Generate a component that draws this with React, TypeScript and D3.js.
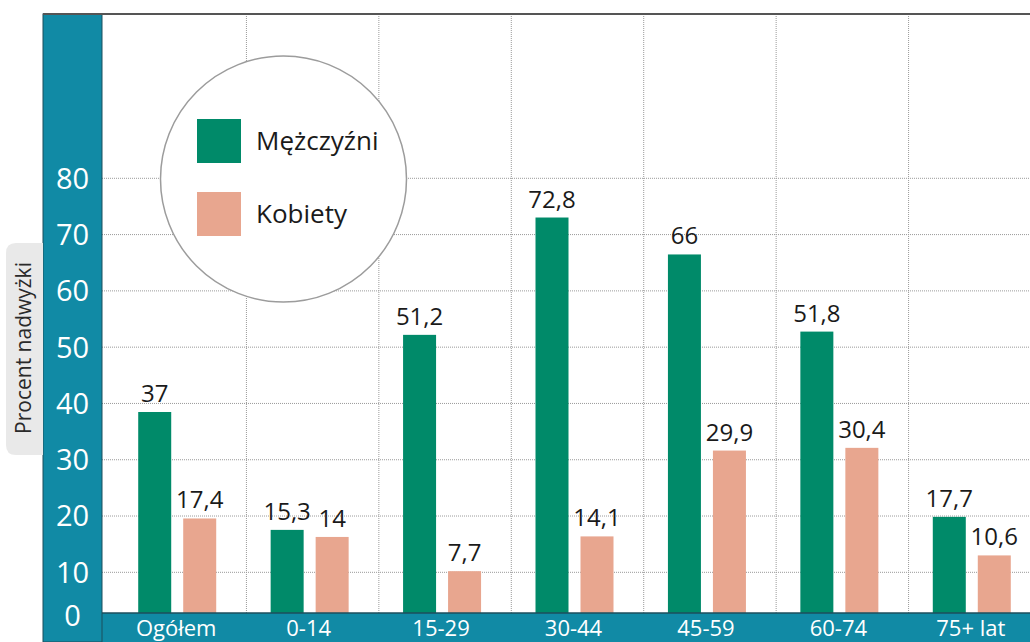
import React from "react";
import * as d3 from "d3";

const categories = ["Ogółem", "0-14", "15-29", "30-44", "45-59", "60-74", "75+ lat"];
const menValues = [37, 15.3, 51.2, 72.8, 66, 51.8, 17.7];
const womenValues = [17.4, 14, 7.7, 14.1, 29.9, 30.4, 10.6];
const tickValues = [0, 10, 20, 30, 40, 50, 60, 70, 80];
const seriesNames = ["Mężczyźni", "Kobiety"];
const axisTitle = "Procent nadwyżki";

const W = 1030;
const H = 642;
const TEAL = "#118aa5";
const GREEN = "#008a69";
const SALMON = "#e8a68f";
const FONT = "'Open Sans', 'Noto Sans', sans-serif";

const fmt = (v: number) => String(v).replace(".", ",");

export default function App() {
  const plotLeft = 102;
  const plotRight = W;
  const plotTop = 14;
  const baseline = 613;

  const x = d3.scaleBand<string>().domain(categories).range([114, 1041]).padding(0);
  // bars: 0 at base of plot, 80 at the 80 gridline
  const yBar = d3.scaleLinear().domain([0, 80]).range([baseline, 178.4]);
  // gridlines / tick labels: evenly spaced grid
  const yGrid = d3.scaleLinear().domain([0, 80]).range([628.6, 178.3]);

  const barW = 33;
  const gap = 12;
  const bandEdges = categories.slice(1).map((c) => x(c) as number);

  return (
    <svg
      width={W}
      height={H}
      style={{ position: "absolute", left: 0, top: 0, background: "#fff" }}
      fontFamily={FONT}
    >
      {/* vertical gridlines */}
      {bandEdges.map((ex, i) => (
        <line key={"vg" + i} x1={ex} x2={ex} y1={plotTop} y2={baseline} stroke="#9a9a9a" strokeWidth={1} strokeDasharray="1,1" />
      ))}
      {/* horizontal gridlines */}
      {tickValues.filter((t) => t > 0).map((t) => (
        <line key={"hg" + t} x1={plotLeft} x2={plotRight} y1={yGrid(t)} y2={yGrid(t)} stroke="#9a9a9a" strokeWidth={1} strokeDasharray="1,1" />
      ))}

      {/* legend circle */}
      <circle cx={283.5} cy={179} r={123} fill="#fff" stroke="#9c9c9c" strokeWidth={1.5} />
      <rect x={197} y={119} width={44} height={44} fill={GREEN} />
      <rect x={197} y={192} width={44} height={44} fill={SALMON} />
      <text x={256} y={150} fontSize={26} fill="#1a1a1a">{seriesNames[0]}</text>
      <text x={256} y={223} fontSize={26} fill="#1a1a1a">{seriesNames[1]}</text>

      {/* bars */}
      {categories.map((c, i) => {
        const cx = (x(c) as number) + x.bandwidth() / 2 - 3;
        const mx = cx - gap / 2 - barW;
        const wx = cx + gap / 2;
        const my = yBar(menValues[i]);
        const wy = yBar(womenValues[i]);
        return (
          <g key={"b" + c}>
            <rect x={mx} y={my} width={barW} height={baseline - my} fill={GREEN} />
            <rect x={wx} y={wy} width={barW} height={baseline - wy} fill={SALMON} />
            <text x={mx + barW / 2} y={my - 10} fontSize={24} textAnchor="middle" fill="#1a1a1a">{fmt(menValues[i])}</text>
            <text x={wx + barW / 2} y={wy - 10} fontSize={24} textAnchor="middle" fill="#1a1a1a">{fmt(womenValues[i])}</text>
          </g>
        );
      })}

      {/* bottom band */}
      <rect x={plotLeft} y={baseline} width={plotRight - plotLeft} height={H - baseline} fill={TEAL} />
      <line x1={plotLeft} x2={plotRight} y1={baseline} y2={baseline} stroke="#1d4e5c" strokeWidth={1.5} />
      {categories.map((c) => (
        <text key={"cl" + c} x={(x(c) as number) + x.bandwidth() / 2 - 4} y={636} fontSize={22} textAnchor="middle" fill="#fff">{c}</text>
      ))}

      {/* left band */}
      <rect x={43} y={plotTop} width={plotLeft - 43} height={H - plotTop} fill={TEAL} stroke="#1d4e5c" strokeWidth={1} />
      {tickValues.map((t) => (
        <text key={"tl" + t} x={72.5} y={Math.min(yGrid(t), 616)} dy="0.36em" fontSize={29} textAnchor="middle" fill="#fff">{t}</text>
      ))}

      {/* top border */}
      <line x1={43} x2={W} y1={plotTop} y2={plotTop} stroke="#555" strokeWidth={2} />

      {/* axis title box */}
      <path d="M43,243 L16,243 Q6,243 6,253 L6,445 Q6,455 16,455 L43,455 Z" fill="#e9e9e9" />
      <text transform={`translate(31,348) rotate(-90)`} fontSize={21} textAnchor="middle" fill="#2a2a2a">{axisTitle}</text>
    </svg>
  );
}
